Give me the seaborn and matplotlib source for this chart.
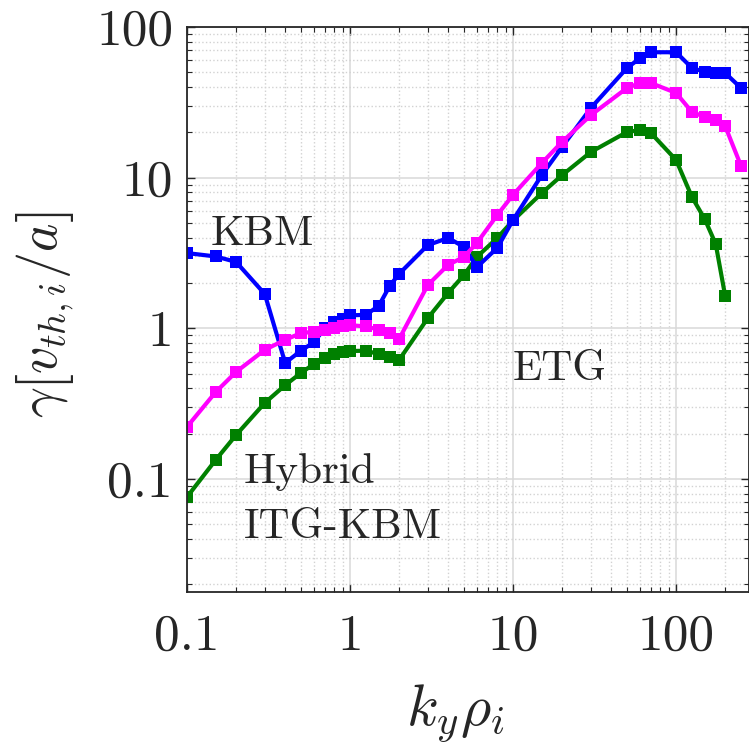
import pandas as pd
import seaborn as sns
import matplotlib.pyplot as plt
from matplotlib.ticker import FixedLocator, LogLocator, NullFormatter

# growth rate spectra
ky = [0.1, 0.15, 0.2, 0.3, 0.4, 0.5, 0.6, 0.7, 0.8, 0.9, 1, 1.25, 1.5, 1.75, 2,
      3, 4, 5, 6, 8, 10, 15, 20, 30, 50, 60, 70, 100, 125, 150, 175, 200, 250]
gamma_blue = [3.16, 3.0, 2.76, 1.69, 0.59, 0.71, 0.81, 1.0, 1.1, 1.15, 1.22, 1.23, 1.41, 1.91, 2.3,
              3.57, 3.98, 3.47, 2.55, 3.42, 5.24, 10.4, 16, 29, 53.5, 62, 68, 68, 53.5, 50.3, 49.5, 49.5, 39.4]
gamma_magenta = [0.222, 0.378, 0.514, 0.72, 0.84, 0.93, 0.95, 0.98, 1.0, 1.03, 1.05, 1.03, 0.98, 0.93, 0.85,
                 1.94, 2.64, 2.98, 3.69, 5.65, 7.7, 12.5, 17.3, 26, 39.4, 42.5, 42.5, 36.5, 27.3, 25.3, 24.1, 22, 12]
gamma_green = [0.076, 0.134, 0.196, 0.32, 0.42, 0.506, 0.58, 0.637, 0.676, 0.70, 0.708, 0.71, 0.676, 0.65, 0.617,
               1.17, 1.72, 2.26, 2.98, 3.98, 5.2, 7.9, 10.4, 14.8, 20.1, 20.7, 19.8, 13.1, 7.45, 5.3, 3.63, 1.64]

tick_values = [0.1, 1, 10, 100]
tick_labels = ["0.1", "1", "10", "100"]

sns.set_theme(style="ticks")
plt.rcParams["font.family"] = ["cmr10", "DejaVu Serif"]
plt.rcParams["mathtext.fontset"] = "cm"
plt.rcParams["axes.unicode_minus"] = False

fig = plt.figure(figsize=(7.49, 7.5), dpi=100)
ax = fig.add_axes([187 / 749, 158 / 750, 562 / 749, 565 / 750])
ax.set(xscale="log", yscale="log")

# draw order: green, blue, magenta on top
series = [
    (ky[:len(gamma_green)], gamma_green, "#008000"),
    (ky, gamma_blue, "#0000ff"),
    (ky, gamma_magenta, "#ff00ff"),
]
for x, y, col in series:
    df = pd.DataFrame({"ky": x, "gamma": y})
    sns.lineplot(data=df, x="ky", y="gamma", ax=ax, color=col, marker="s",
                 markersize=8, mec=col, mew=0, linewidth=3, estimator=None,
                 sort=False, legend=False)

ax.set_xlim(0.1, 280)
ax.set_ylim(0.0178, 100)

ax.xaxis.set_major_locator(FixedLocator(tick_values))
ax.yaxis.set_major_locator(FixedLocator(tick_values))
ax.set_xticklabels(tick_labels)
ax.set_yticklabels(tick_labels)
for axis in (ax.xaxis, ax.yaxis):
    axis.set_minor_locator(LogLocator(base=10, subs=range(2, 10), numticks=20))
    axis.set_minor_formatter(NullFormatter())

ax.tick_params(which="both", direction="in", top=True, right=True, colors="#262626")
ax.tick_params(which="major", length=6, width=1)
ax.tick_params(which="minor", length=3.5, width=0.8)
ax.tick_params(axis="x", labelsize=37, pad=16)
ax.tick_params(axis="y", labelsize=37, pad=10)

ax.grid(which="major", color="#d9d9d9", linestyle="-", linewidth=1.1)
ax.grid(which="minor", color="#d2d2d2", linestyle=":", linewidth=1.0)
ax.set_axisbelow(True)
for sp in ax.spines.values():
    sp.set_color("#262626")
    sp.set_linewidth(1.3)

ax.set_xlabel(r"$k_y\rho_i$", fontsize=42, color="#262626")
ax.set_ylabel(r"$\gamma\left[v_{th,i}/a\right]$", fontsize=39, color="#262626")
ax.xaxis.set_label_coords(0.477, -0.16)
ax.yaxis.set_label_coords(-0.197, 0.49)

ax.text(0.0427, 0.614, "KBM", transform=ax.transAxes, fontsize=31, va="baseline")
ax.text(0.580, 0.375, "ETG", transform=ax.transAxes, fontsize=31, va="baseline")
ax.text(0.101, 0.193, "Hybrid", transform=ax.transAxes, fontsize=31, va="baseline")
ax.text(0.101, 0.0956, "ITG-KBM", transform=ax.transAxes, fontsize=31, va="baseline")

fig.savefig("out.png", dpi=100)
